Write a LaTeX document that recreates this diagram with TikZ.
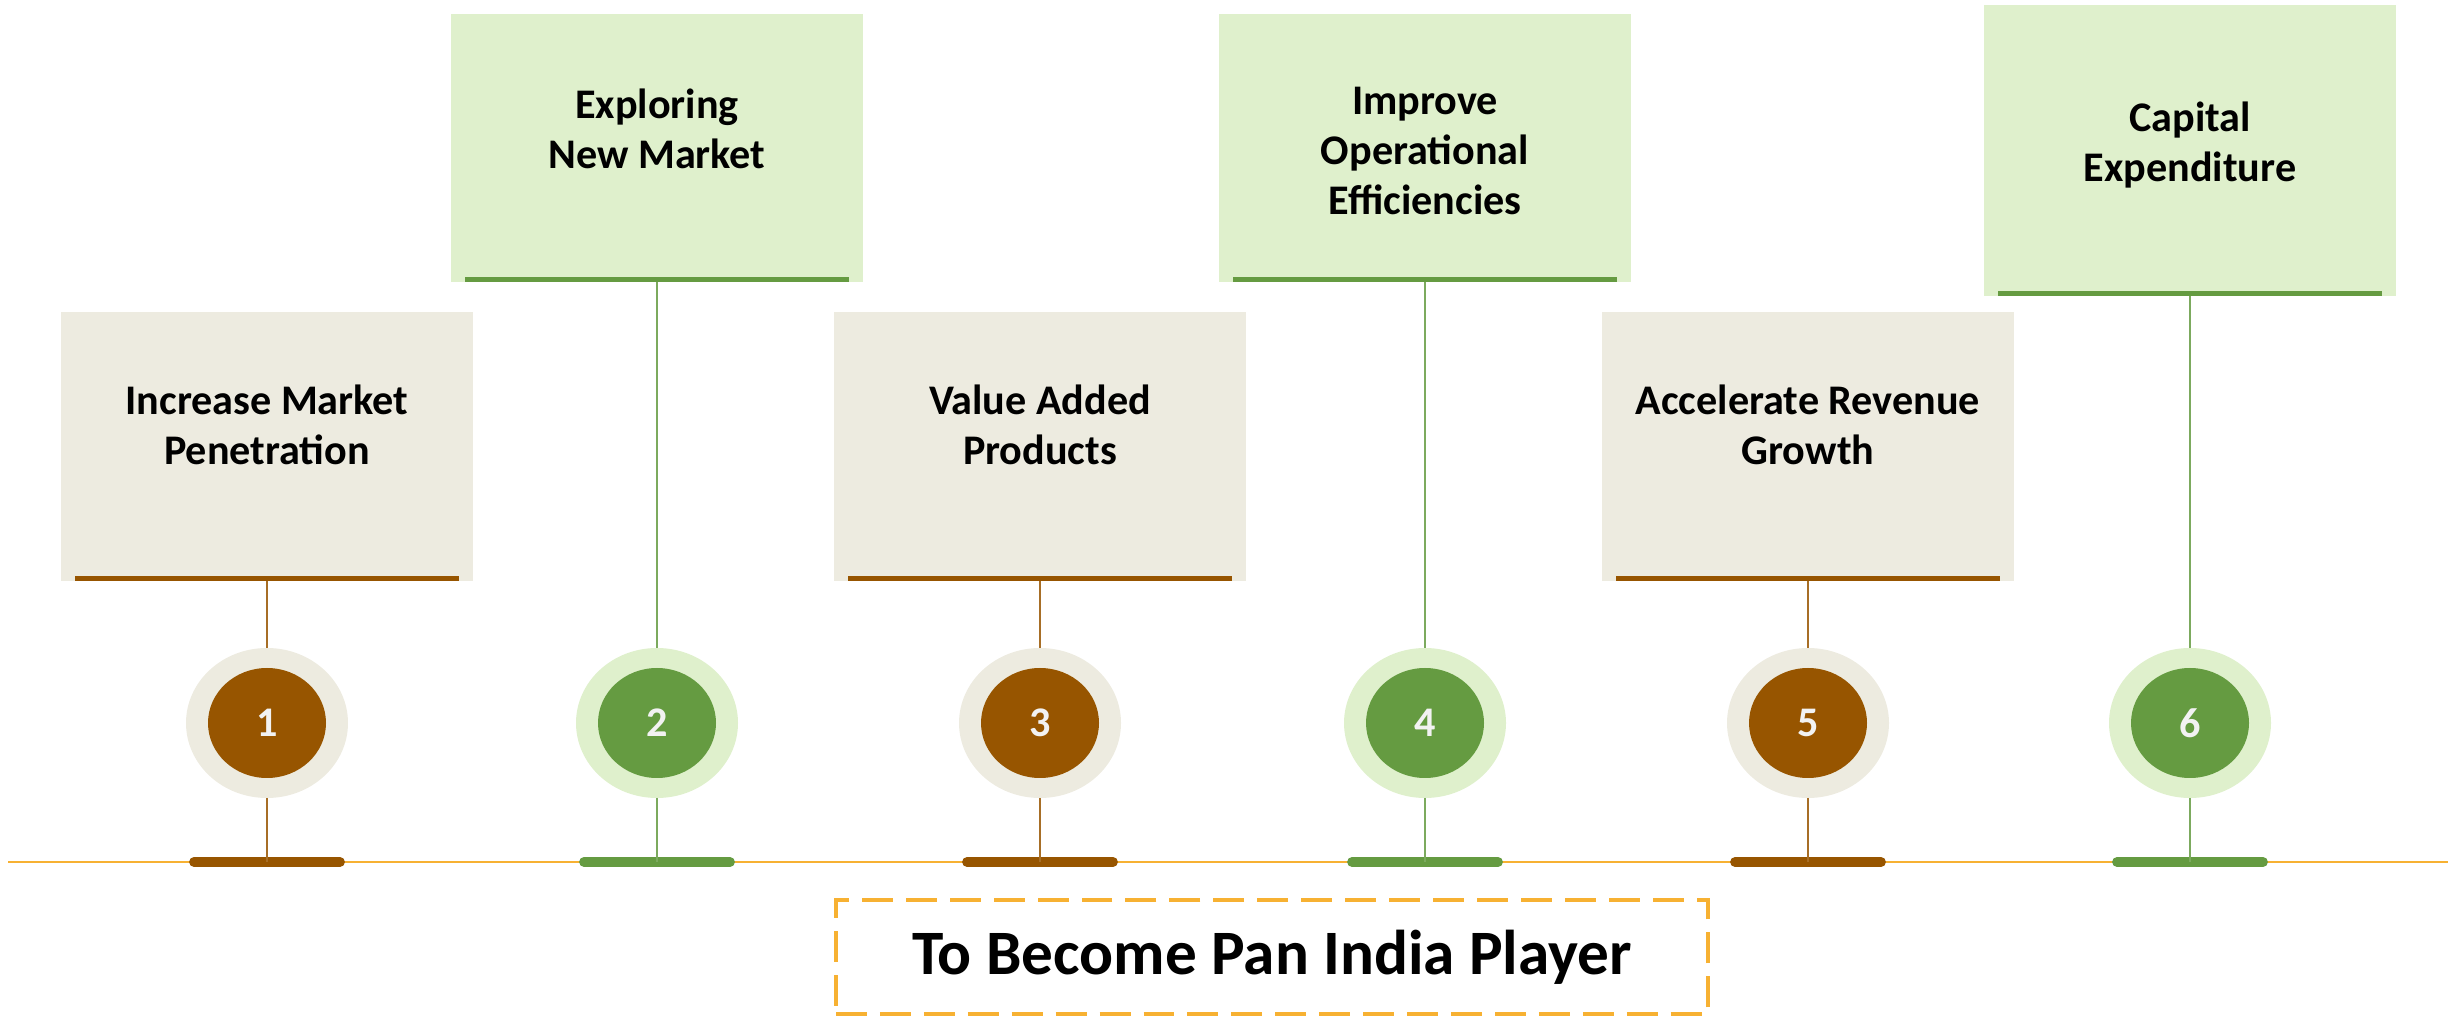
\documentclass[tikz,border=0pt]{standalone}
\usepackage{fontspec}
\setmainfont{Carlito}
\usetikzlibrary{shapes.geometric}
\definecolor{brownish}{HTML}{975500}
\definecolor{tanfill}{HTML}{EDEBE0}
\definecolor{leafgreen}{HTML}{659B41}
\definecolor{palegreen}{HTML}{DFF0CC}
\definecolor{amber}{HTML}{F7B132}

\begin{document}
\begin{tikzpicture}[
                    panel/.style={rectangle, minimum width=4.12cm, inner sep=0pt, outer sep=0pt},
                    caption/.style={font=\bfseries\fontsize{12}{14.3}\selectfont, align=center},
                    ring/.style={ellipse, minimum width=1.62cm, minimum height=1.5cm, inner sep=0pt, outer sep=0pt},
                    dot/.style={ellipse, minimum width=1.18cm, minimum height=1.1cm, inner sep=0pt,
                                text=white!95!black, font=\bfseries\fontsize{12}{14}\selectfont},
                    foot/.style={line width=2.8pt, line cap=round},
                    stem/.style={line width=0.45pt},
                ]
                \useasboundingbox (0,0) rectangle (24.48,10.16);

                % timeline
                \draw[amber, line width=0.8pt] (0.08,1.54) -- (24.48,1.54);

                \foreach \i/\x/\top/\h/\ty/\pale/\dark/\txt in {
                    1/2.67/7.04/2.69/5.91/tanfill/brownish/{Increase Market\\Penetration},
                    2/6.57/10.02/2.68/8.87/palegreen/leafgreen/{Exploring\\New Market},
                    3/10.40/7.04/2.69/5.91/tanfill/brownish/{Value Added\\Products},
                    4/14.25/10.02/2.68/8.65/palegreen/leafgreen/{Improve\\Operational\\Efficiencies},
                    5/18.08/7.04/2.69/5.91/tanfill/brownish/{Accelerate Revenue\\Growth},
                    6/21.90/10.11/2.91/8.71/palegreen/leafgreen/{Capital\\Expenditure}}
                {
                    \node[panel, fill=\pale, minimum height=\h cm, anchor=north] (box\i) at (\x,\top) {};
                    \draw[\dark, line width=1.4pt]
                        ([xshift=0.14cm, yshift=0.025cm]box\i.south west) -- ([xshift=-0.14cm, yshift=0.025cm]box\i.south east);
                    \node[caption] (cap\i) at (\x,\ty) {\txt};

                    \node[ring, fill=\pale] (ring\i) at (\x,2.93) {};
                    \node[dot, fill=\dark] (dot\i) at (\x,2.93) {\i};

                    \coordinate (foot\i) at (\x,1.54);
                    \draw[\dark, foot] ([xshift=-0.73cm]foot\i) -- ([xshift=0.73cm]foot\i);

                    \draw[\dark!85, stem] (box\i.south) -- (ring\i.north);
                    \draw[\dark!85, stem] (ring\i.south) -- (foot\i);
                }

                % goal
                \node[draw=amber, line width=1.2pt, dash pattern=on 8.8pt off 3.7pt,
                      minimum width=8.72cm, minimum height=1.14cm,
                      font=\bfseries\fontsize{18}{22}\selectfont] (goal) at (12.72,0.59) {To Become Pan India Player};
            \end{tikzpicture}
\end{document}
